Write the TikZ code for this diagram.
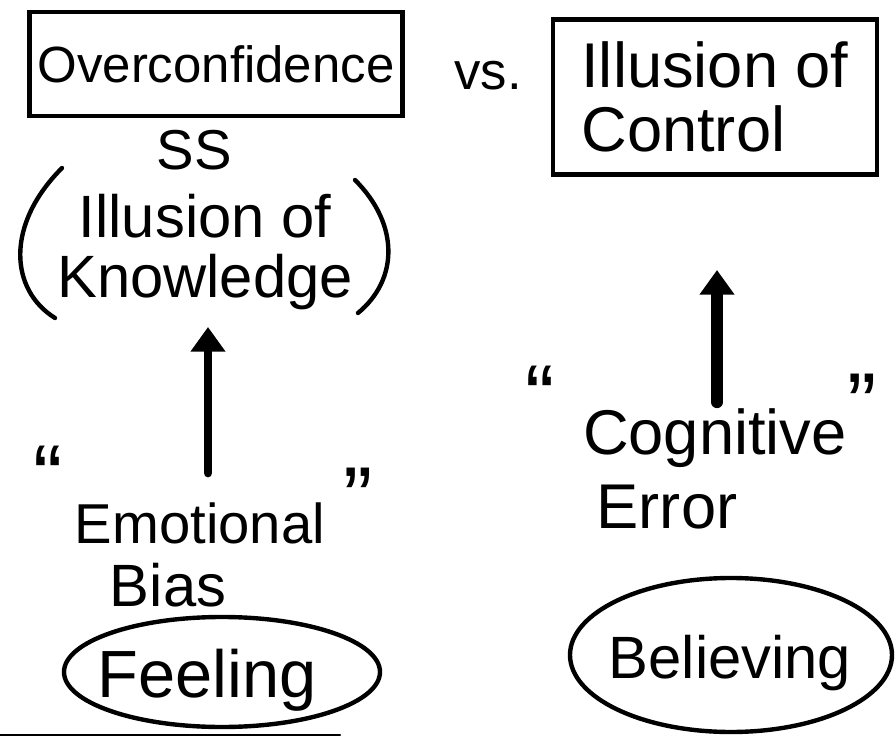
\documentclass[tikz,border=0pt]{standalone}
\usepackage{fontspec}
\setmainfont{Liberation Sans}
\usetikzlibrary{arrows.meta}

\begin{document}
\begin{tikzpicture}[x=0.02cm, y=-0.02cm, line cap=round,
	hand/.style={font=\fontsize{#1}{#1}\selectfont, inner sep=0pt},
	box/.style={draw, line width=2.5pt},
	ring/.style={line width=2.5pt},
	uparrow/.style={-{Triangle[width=19pt,length=14pt]}}]
	\useasboundingbox (0,0) rectangle (896,736);
	% the two boxes on top
	\node[box, minimum width=7.46cm, minimum height=2.08cm, hand=29] (over) at (216,64) {Overconfidence};
	\node[hand=30] (vs) at (488,76) {vs.};
	\node[box, minimum width=6.48cm, minimum height=3.1cm, hand=36, align=left] (ctrl) at (715,97) {Illusion of\\Control};
	% left column
	\node[hand=32] (ss) at (194,150) {SS};
	\node[hand=34, align=center] (know) at (205,252) {Illusion of\\Knowledge};
	\draw[ring] (62,168) .. controls (5,225) and (10,290) .. (55,318);
	\draw[ring] (355,180) .. controls (400,225) and (398,280) .. (358,313);
	\coordinate (lfoot) at (208,473);
	\coordinate (ltip) at (208,327);
	\draw[uparrow, line width=5pt] (lfoot) -- (ltip);
	\node[hand=32] (emo) at (200,523) {Emotional};
	\node[hand=34] (bias) at (168,585) {Bias};
	\node[hand=38] (feel) at (207,680) {Feeling};
	\draw[ring] (222,672) ellipse [x radius=158, y radius=55];
	% right column
	\coordinate (rfoot) at (717,402);
	\coordinate (rtip) at (717,270);
	\draw[uparrow, line width=7pt] (rfoot) -- (rtip);
	\node[hand=36] (cog) at (715,438) {Cognitive};
	\node[hand=36] (err) at (667,507) {Error};
	\node[hand=34] (belief) at (730,663) {Believing};
	\draw[ring] (731,655) ellipse [x radius=161, y radius=77];
	% quote marks
	\foreach \n/\p/\t in {q1/{48,476}/“, q2/{358,498}/”, q3/{540,396}/“, q4/{862,404}/”} {
		\node[hand=50] (\n) at (\p) {\t};
	}
	\draw[line width=1.2pt] (0,735) -- (340,735);
\end{tikzpicture}
\end{document}
